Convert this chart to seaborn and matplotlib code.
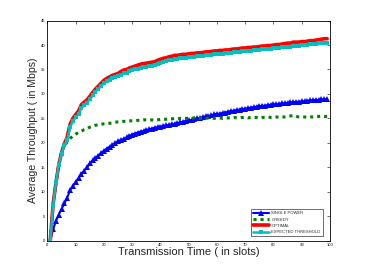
import numpy as np
import pandas as pd
import matplotlib
matplotlib.use("Agg")
import matplotlib.pyplot as plt
import seaborn as sns

slots = list(range(1, 100))

single_power = [0, 2.3, 4.0, 5.3, 6.5, 7.6, 8.8, 10.3, 11.2, 12.0,
                12.8, 13.6, 14.3, 15.0, 15.8, 16.4, 16.9, 17.4, 17.9, 18.4,
                18.8, 19.2, 19.6, 20.0, 20.3, 20.6, 20.8, 21.1, 21.4, 21.7,
                21.9, 22.1, 22.3, 22.4, 22.6, 22.8, 22.9, 23.1, 23.2, 23.3,
                23.5, 23.6, 23.7, 23.8, 23.9, 24.0, 24.2, 24.3, 24.5, 24.6,
                24.7, 24.9, 25.0, 25.1, 25.3, 25.4, 25.5, 25.6, 25.8, 25.9,
                26.0, 26.1, 26.2, 26.4, 26.5, 26.6, 26.7, 26.8, 26.9, 27.0,
                27.1, 27.2, 27.3, 27.4, 27.5, 27.6, 27.6, 27.7, 27.8, 27.9,
                27.9, 28.0, 28.1, 28.1, 28.2, 28.3, 28.3, 28.4, 28.4, 28.5,
                28.5, 28.6, 28.7, 28.7, 28.8, 28.8, 28.9, 28.9, 29.0]

greedy = [0, 7.3, 11.8, 15.5, 18.3, 19.4, 20.2, 20.9, 21.4, 21.8,
          22.1, 22.4, 22.7, 22.9, 23.2, 23.4, 23.6, 23.7, 23.8, 23.9,
          23.9, 24.0, 24.1, 24.2, 24.3, 24.3, 24.4, 24.4, 24.5, 24.5,
          24.5, 24.6, 24.6, 24.7, 24.7, 24.6, 24.7, 24.6, 24.7, 24.8,
          24.9, 24.8, 24.9, 24.9, 25.0, 24.9, 25.0, 25.0, 25.0, 25.0,
          25.0, 25.1, 25.0, 25.0, 25.1, 25.0, 25.1, 25.1, 25.0, 25.1,
          25.1, 25.0, 25.1, 25.1, 25.1, 25.2, 25.1, 25.1, 25.2, 25.2,
          25.1, 25.2, 25.2, 25.2, 25.1, 25.2, 25.2, 25.3, 25.2, 25.2,
          25.3, 25.2, 25.3, 25.3, 25.4, 25.5, 25.6, 25.4, 25.3, 25.3,
          25.3, 25.2, 25.3, 25.3, 25.4, 25.4, 25.5, 25.4, 25.4]

optimal = [0, 7.5, 11.8, 15.5, 18.0, 19.8, 21.2, 23.8, 25.0, 25.8,
           26.5, 27.8, 28.3, 28.8, 29.5, 30.3, 31.0, 31.6, 32.2, 32.8,
           33.2, 33.5, 33.8, 34.0, 34.2, 34.6, 34.9, 35.0, 35.3, 35.5,
           35.7, 35.9, 36.1, 36.2, 36.3, 36.4, 36.5, 36.6, 36.9, 37.1,
           37.3, 37.4, 37.6, 37.7, 37.9, 37.9, 38.0, 38.1, 38.1, 38.2,
           38.3, 38.3, 38.4, 38.4, 38.5, 38.6, 38.6, 38.7, 38.8, 38.8,
           38.9, 38.9, 39.0, 39.0, 39.1, 39.2, 39.2, 39.3, 39.4, 39.4,
           39.5, 39.5, 39.6, 39.6, 39.7, 39.8, 39.8, 39.9, 39.9, 40.0,
           40.1, 40.1, 40.2, 40.3, 40.4, 40.4, 40.6, 40.6, 40.6, 40.7,
           40.7, 40.8, 40.9, 40.9, 41.0, 41.1, 41.2, 41.3, 41.3]

expected_threshold = [0, 7.2, 11.9, 15.4, 17.8, 19.5, 20.5, 23.2, 24.4, 25.2,
                      25.9, 27.1, 27.7, 28.2, 28.9, 29.7, 30.4, 31.0, 31.6, 32.2,
                      32.6, 32.9, 33.2, 33.4, 33.6, 33.9, 34.2, 34.3, 34.6, 34.8,
                      35.0, 35.2, 35.4, 35.5, 35.6, 35.7, 35.8, 35.9, 36.2, 36.4,
                      36.6, 36.7, 36.9, 37.0, 37.1, 37.2, 37.3, 37.4, 37.4, 37.5,
                      37.6, 37.6, 37.7, 37.7, 37.8, 37.9, 37.9, 38.0, 38.1, 38.1,
                      38.2, 38.2, 38.3, 38.3, 38.4, 38.5, 38.5, 38.6, 38.7, 38.7,
                      38.8, 38.8, 38.9, 38.9, 39.0, 39.1, 39.1, 39.2, 39.2, 39.3,
                      39.4, 39.4, 39.5, 39.6, 39.6, 39.7, 39.8, 39.9, 39.9, 40.0,
                      40.0, 40.1, 40.2, 40.2, 40.3, 40.4, 40.5, 40.5, 40.5]

labels = ["SINGLE POWER", "GREEDY", "OPTIMAL", "EXPECTED THRESHOLD"]

sns.set_style("white")
plt.rcParams['font.family'] = ['Liberation Sans', 'DejaVu Sans']

fig = plt.figure(figsize=(3.65, 2.71), dpi=100)
ax = fig.add_axes([0.130, 0.112, 0.774, 0.812])

sns.lineplot(x=slots, y=single_power, ax=ax, color='#0000ff', lw=1.5,
             marker='^', markersize=4.5, markeredgewidth=0, label=labels[0])
sns.lineplot(x=slots, y=greedy, ax=ax, color='#008000', lw=2.2,
             linestyle=(0, (1, 1.3)), label=labels[1])
sns.lineplot(x=slots, y=optimal, ax=ax, color='#ff0000', lw=2.6,
             label=labels[2])
sns.lineplot(x=slots, y=expected_threshold, ax=ax, color='#00bfbf', lw=1.8,
             marker='s', markersize=3.3, markeredgewidth=0, label=labels[3])

ax.set_xlim(0, 100)
ax.set_ylim(0, 45)
ax.set_xticks(range(0, 101, 10))
ax.set_yticks(range(0, 46, 5))
ax.tick_params(axis='both', which='both', direction='in', length=2, width=0.4,
               labelsize=3, top=True, right=True, pad=1.5, colors='black')
for s in ax.spines.values():
    s.set_linewidth(0.6)
    s.set_color('black')

ax.set_xlabel("Transmission Time ( in slots)", fontsize=8, labelpad=0)
ax.set_ylabel("Average Throughput ( in Mbps)", fontsize=7.6, labelpad=2)

leg = ax.legend(loc='lower right', bbox_to_anchor=(0.975, 0.02),
                borderaxespad=0, fontsize=3, frameon=True, fancybox=False,
                handlelength=4, labelspacing=0.55, borderpad=0.5,
                handletextpad=0.5)
leg.get_frame().set_edgecolor('black')
leg.get_frame().set_linewidth(0.5)

fig.savefig("out.png", dpi=100, facecolor='white')
